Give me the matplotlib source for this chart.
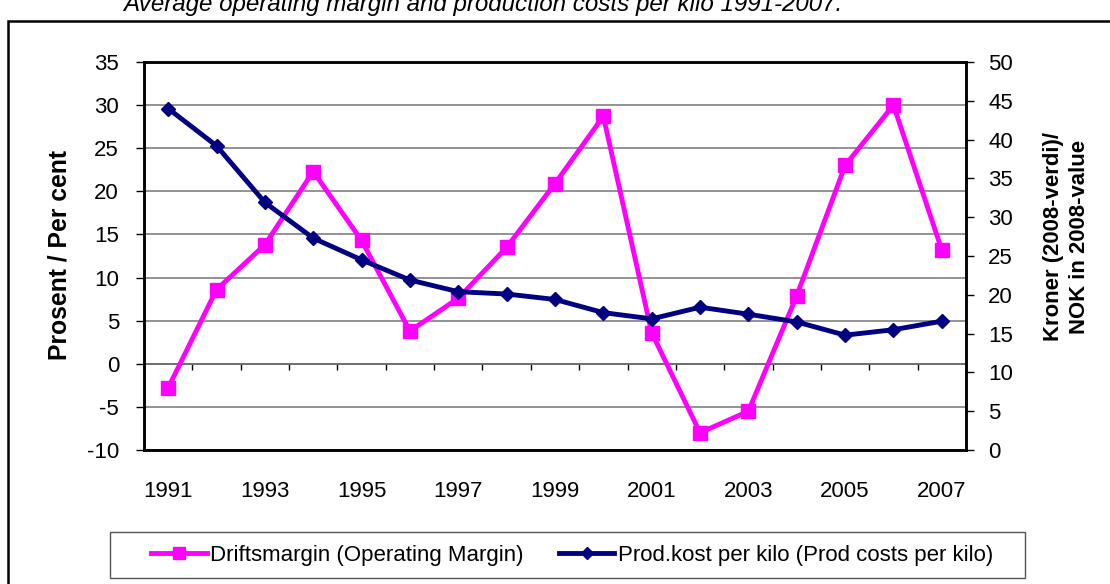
import matplotlib
matplotlib.use("Agg")
import matplotlib.pyplot as plt
import numpy as np
from matplotlib.patches import Rectangle

plt.rcParams['font.family'] = ['Liberation Sans', 'DejaVu Sans']
plt.rcParams['axes.unicode_minus'] = False

# -------------------------- data --------------------------
years = list(range(1991, 2008))
year_labels = [str(y) if (y - 1991) % 2 == 0 else '' for y in years]
margin = [-2.8, 8.6, 13.8, 22.3, 14.3, 3.8, 7.6, 13.5, 20.9, 28.7,
          3.6, -8.0, -5.5, 7.9, 23.0, 30.0, 13.2]
prod_cost = [44.0, 39.2, 31.9, 27.3, 24.5, 21.9, 20.4, 20.1, 19.4, 17.7,
             16.9, 18.4, 17.5, 16.5, 14.8, 15.5, 16.6]

title = 'Average operating margin and production costs per kilo 1991-2007.'
left_label = 'Prosent / Per cent'
right_label = 'Kroner (2008-verdi)/\nNOK in 2008-value'
margin_name = 'Driftsmargin (Operating Margin)'
cost_name = 'Prod.kost per kilo (Prod costs per kilo)'

W, H = 1110, 584
magenta = '#FF00FF'
navy = '#000080'
fs = 16

# -------------------------- drawing --------------------------
fig = plt.figure(figsize=(W / 100, H / 100), dpi=100)

# outer chart frame
fig.add_artist(Rectangle((8 / W, -0.05), 1.1, 1 - 21 / H + 0.05, transform=fig.transFigure,
                         fill=False, edgecolor='black', linewidth=1.8))
fig.text(123 / W, 1 - 11 / H, title, fontsize=17.4, style='italic', va='baseline', ha='left')

ax = fig.add_axes([144 / W, 1 - 450 / H, 822 / W, 388 / H])
x = np.arange(len(years))

ax.set_xlim(-0.5, len(years) - 0.5)
ax.set_ylim(-10, 35)
ax.set_yticks(np.arange(-10, 36, 5))
ax.grid(True, axis='y', color='#808080', linewidth=1.2, zorder=0)
ax.axhline(0, color='black', linewidth=1.2, zorder=1)
# category boundary ticks on the zero line
ax.vlines(np.arange(0.5, len(years) - 1, 1), -0.75, 0, color='black', linewidth=1, zorder=1)

ax.plot(x, margin, color=magenta, linewidth=3.5, marker='s', markersize=10.5,
        label=margin_name, zorder=3)

ax.set_xticks(x)
ax.set_xticklabels(year_labels)
ax.tick_params(axis='x', length=0, pad=22, labelsize=fs)
ax.tick_params(axis='y', direction='out', length=6, width=1, pad=12, labelsize=fs)
for sp in ax.spines.values():
    sp.set_linewidth(1.8)

ax2 = ax.twinx()
ax2.set_ylim(0, 50)
ax2.set_yticks(np.arange(0, 51, 5))
ax2.plot(x, prod_cost, color=navy, linewidth=3.5, marker='D', markersize=7,
         label=cost_name, zorder=3)
ax2.tick_params(axis='y', direction='out', length=6, width=1, pad=10, labelsize=fs)
for sp in ax2.spines.values():
    sp.set_linewidth(1.8)

ax.set_ylabel(left_label, fontsize=17.8, fontweight='bold')
ax.yaxis.set_label_coords(-0.088, 0.503)
ax2.set_ylabel(right_label, fontsize=15.9, fontweight='bold', rotation=90, linespacing=1.3)
ax2.yaxis.set_label_coords(1.094, 0.549)

# legend
h1, l1 = ax.get_legend_handles_labels()
h2, l2 = ax2.get_legend_handles_labels()
fig.legend(h1 + h2, l1 + l2, loc='center', bbox_to_anchor=(572 / W, 1 - 555 / H),
           ncol=2, frameon=False, fontsize=fs, handlelength=2.5, handletextpad=0.15,
           columnspacing=1.6, markerscale=0.85)
fig.add_artist(Rectangle((110 / W, 1 - 578 / H), 915 / W, 46 / H, transform=fig.transFigure,
                         fill=False, edgecolor='#555555', linewidth=1.0))

fig.savefig('out.png', dpi=100)
